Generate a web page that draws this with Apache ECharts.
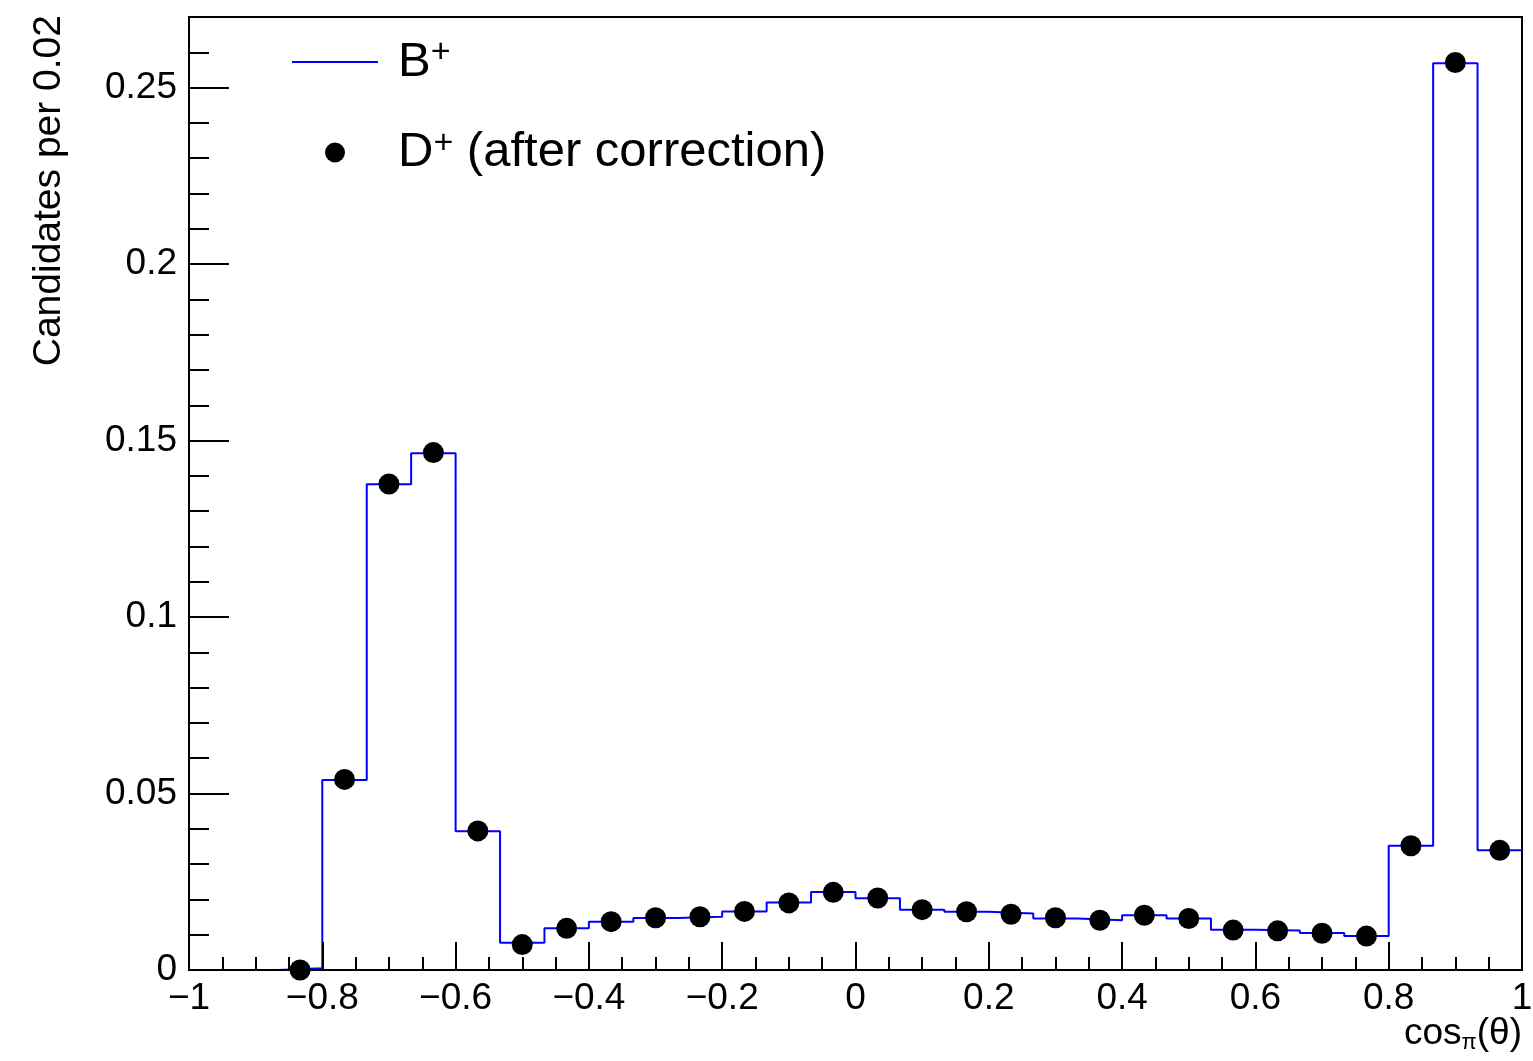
<!DOCTYPE html>
<html>
<head>
<meta charset="utf-8">
<script src="https://cdn.jsdelivr.net/npm/echarts@6/dist/echarts.min.js"></script>
<style>
html,body{margin:0;padding:0;background:#fff;}
#chart{width:1533px;height:1061px;}
</style>
</head>
<body>
<div id="chart"></div>
<script>
// ---- data ----
const binEdges = [-1, -0.9333, -0.8667, -0.8, -0.7333, -0.6667, -0.6, -0.5333, -0.4667, -0.4,
  -0.3333, -0.2667, -0.2, -0.1333, -0.0667, 0, 0.0667, 0.1333, 0.2, 0.2667,
  0.3333, 0.4, 0.4667, 0.5333, 0.6, 0.6667, 0.7333, 0.8, 0.8667, 0.9333, 1];
const bPlus = [0, 0, 0.0005, 0.0538, 0.1376, 0.1464, 0.0393, 0.0077, 0.0118, 0.0137,
  0.0147, 0.0151, 0.0166, 0.0191, 0.0221, 0.0203, 0.0171, 0.0165, 0.0160, 0.0146,
  0.0141, 0.0155, 0.0146, 0.0114, 0.0112, 0.0105, 0.0096, 0.0352, 0.2569, 0.0339];
const dPlus = [null, null, 0.0, 0.0540, 0.1377, 0.1466, 0.0394, 0.0072, 0.0118, 0.0137,
  0.0148, 0.0151, 0.0166, 0.0190, 0.0220, 0.0204, 0.0171, 0.0165, 0.0158, 0.0148,
  0.0141, 0.0155, 0.0146, 0.0113, 0.0111, 0.0104, 0.0096, 0.0352, 0.2571, 0.0339];
const yMajorTicks = [0, 0.05, 0.1, 0.15, 0.2, 0.25];
const yMinorTicks = [0.01, 0.02, 0.03, 0.04, 0.06, 0.07, 0.08, 0.09, 0.11, 0.12, 0.13, 0.14,
  0.16, 0.17, 0.18, 0.19, 0.21, 0.22, 0.23, 0.24, 0.26];
const seriesNames = ['B+', 'D+ (after correction)'];

// ---- build marks from data ----
const stepData = [];
for (let i = 0; i < bPlus.length; i++) {
  stepData.push([binEdges[i], bPlus[i]]);
  stepData.push([binEdges[i + 1], bPlus[i]]);
}
const pointData = [];
for (let i = 0; i < dPlus.length; i++) {
  if (dPlus[i] !== null) pointData.push([(binEdges[i] + binEdges[i + 1]) / 2, dPlus[i]]);
}

const FONT = '"Liberation Sans", Arial, Helvetica, sans-serif';
const fmtNum = v => {
  const s = String(Number(v.toFixed(3)));
  return s.replace('-', '\u2212');
};

const chart = echarts.init(document.getElementById('chart'), null, {renderer: 'canvas'});
chart.setOption({
  animation: false,
  backgroundColor: '#fff',
  textStyle: {fontFamily: FONT, color: '#000'},
  grid: {left: 189, top: 17, right: 11, bottom: 91, outerBoundsMode: 'none', containLabel: false,
    show: true, borderColor: '#000', borderWidth: 2, backgroundColor: 'transparent'},
  legend: {
    show: true,
    orient: 'vertical',
    left: 292,
    top: 36,
    padding: 0,
    itemWidth: 86,
    itemHeight: 20,
    itemGap: 40,
    symbolKeepAspect: true,
    data: [
      {name: seriesNames[0], icon: 'path://M0,0L86,0L86,2L0,2Z', itemStyle: {color: '#0000ff'}},
      {name: seriesNames[1], icon: 'circle', itemStyle: {color: '#000'}}
    ],
    formatter: function (name) {
      if (name === seriesNames[0]) return '{g|}{b|B}{sup|+}';
      return '{g|}{b|D}{sup|+}{b| (after correction)}';
    },
    textStyle: {
      fontFamily: FONT,
      color: '#000',
      rich: {
        g: {width: 15, lineHeight: 52},
        b: {fontSize: 49, fontFamily: FONT, lineHeight: 52, color: '#000'},
        sup: {fontSize: 34, fontFamily: FONT, lineHeight: 30, verticalAlign: 'top', color: '#000'}
      }
    }
  },
  xAxis: {
    type: 'value',
    min: -1, max: 1, interval: 0.2,
    z: 5,
    name: '{a|cos}{s|\u03c0}{a|(\u03b8)}',
    nameLocation: 'end',
    nameGap: 0,
    nameMoveOverlap: false,
    nameTextStyle: {
      align: 'right', verticalAlign: 'top', padding: [44, 0, 0, 0],
      rich: {
        a: {fontSize: 37, fontFamily: FONT, color: '#000', lineHeight: 40},
        s: {fontSize: 22, fontFamily: FONT, color: '#000', verticalAlign: 'bottom', lineHeight: 20}
      }
    },
    splitLine: {show: false},
    axisLine: {show: true, onZero: false, lineStyle: {color: '#000', width: 2}},
    axisTick: {show: true, inside: true, length: 28, lineStyle: {color: '#000', width: 2}},
    minorTick: {show: true, splitNumber: 4, length: 13, lineStyle: {color: '#000', width: 2}},
    axisLabel: {show: true, margin: 10, fontSize: 37, fontFamily: FONT, color: '#000', formatter: fmtNum}
  },
  yAxis: [
    {
      type: 'value', min: 0, max: 0.27, position: 'left', offset: 0, z: 5,
      splitLine: {show: false},
      axisLine: {show: true, onZero: false, lineStyle: {color: '#000', width: 2}},
      axisTick: {show: true, inside: true, length: 40, customValues: yMajorTicks, lineStyle: {color: '#000', width: 2}},
      axisLabel: {show: true, margin: 12, fontSize: 37, fontFamily: FONT, color: '#000', customValues: yMajorTicks, formatter: fmtNum}
    },
    {
      type: 'value', min: 0, max: 0.27, position: 'left', offset: 0, z: 5,
      splitLine: {show: false},
      axisLine: {show: false, onZero: false},
      axisTick: {show: true, inside: true, length: 20, customValues: yMinorTicks, lineStyle: {color: '#000', width: 2}},
      axisLabel: {show: false}
    },
    {
      type: 'value', min: 0, max: 0.27, position: 'left', offset: 140, z: 5,
      splitLine: {show: false},
      axisLine: {show: false, onZero: false},
      axisTick: {show: false},
      axisLabel: {show: false},
      name: 'Candidates per 0.02',
      nameLocation: 'end',
      nameRotate: 90,
      nameGap: 2,
      nameMoveOverlap: false,
      nameTextStyle: {align: 'right', verticalAlign: 'middle', fontSize: 39, fontFamily: FONT, color: '#000'}
    }
  ],
  series: [
    {
      name: seriesNames[0],
      type: 'line',
      data: stepData,
      yAxisIndex: 0,
      symbol: 'none',
      lineStyle: {color: '#0000ff', width: 2},
      itemStyle: {color: '#0000ff'},
      z: 2
    },
    {
      name: seriesNames[1],
      type: 'scatter',
      data: pointData,
      yAxisIndex: 0,
      symbol: 'circle',
      symbolSize: 21,
      itemStyle: {color: '#000', opacity: 1},
      z: 3
    }
  ]
});
</script>
</body>
</html>
